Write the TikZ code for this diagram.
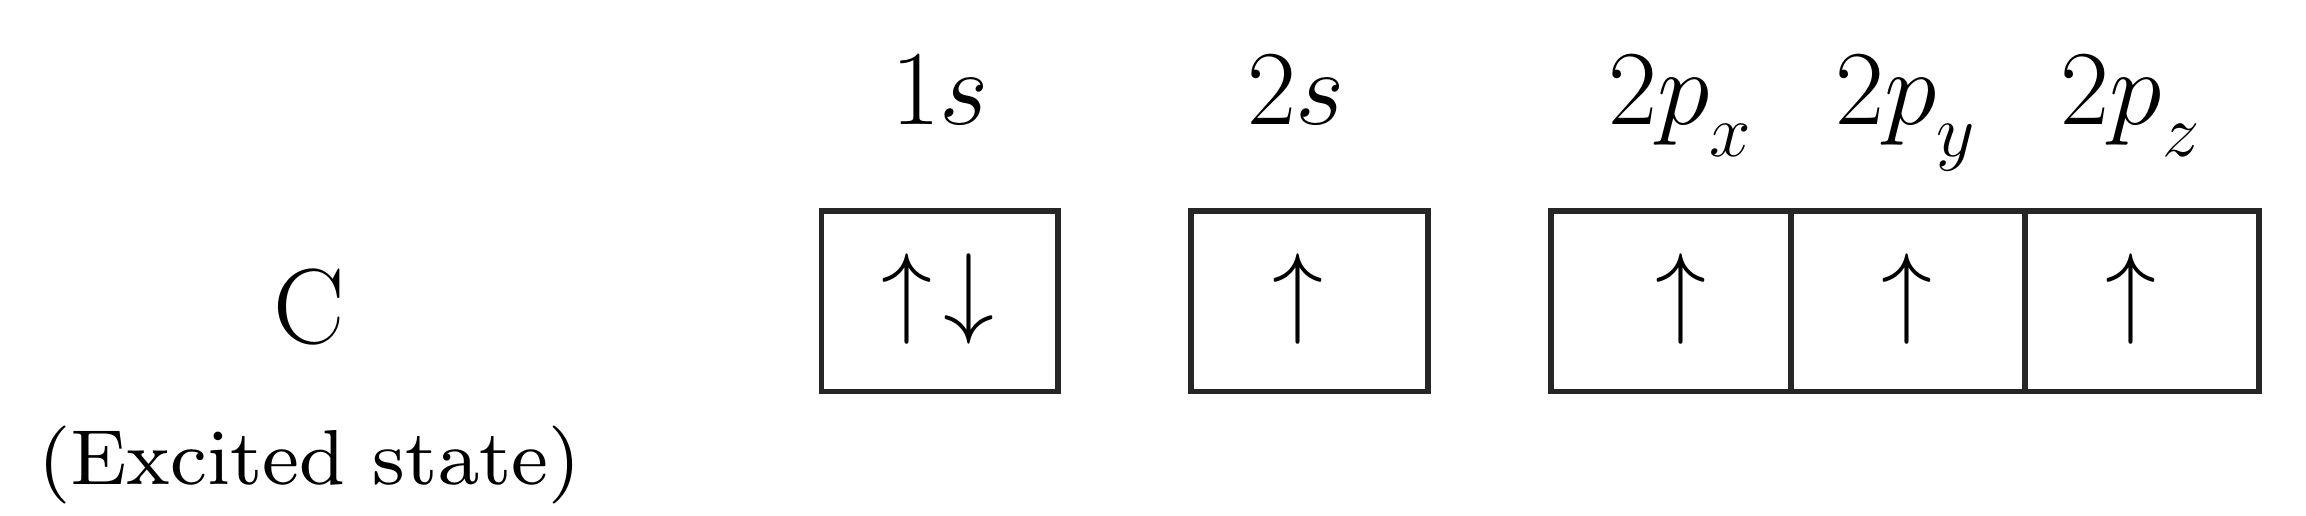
\RequirePackage{fix-cm}
\documentclass[tikz,border=0pt]{standalone}
\DeclareFontFamily{OT1}{cmeight}{}
\DeclareFontShape{OT1}{cmeight}{m}{n}{<->cmr8}{}
\begin{document}
\begin{tikzpicture}[x=0.1mm,y=-0.1mm,
  orb/.style={draw=black!85, line width=1.58pt, inner sep=0pt, minimum height=18.05mm},
  spin/.style={font=\fontsize{29}{30}\selectfont, inner sep=0pt},
  lab/.style={anchor=base, inner sep=0pt, font=\fontsize{30.3}{32}\selectfont},
  elem/.style={anchor=base, inner sep=0pt, font=\fontsize{30.4}{32}\selectfont},
  note/.style={anchor=base, inner sep=0pt, font=\fontencoding{OT1}\fontfamily{cmeight}\fontsize{22.2}{25}\selectfont}]
\useasboundingbox (0,0) rectangle (2306,516);
% element
\node[elem] (el) at (309,343) {C};
\node[note] (st) at (309.5,484) {(Excited state)};
% orbital boxes
\node[orb, minimum width=23.65mm] (s1) at (939.75,301.25) {};
\node[orb, minimum width=23.7mm] (s2) at (1309.5,301.25) {};
\node[orb, minimum width=24.0mm] (px) at (1671,301.25) {};
\node[orb, minimum width=23.4mm] (py) at (1908,301.25) {};
\node[orb, minimum width=23.4mm] (pz) at (2142,301.25) {};
% labels
\node[lab] (l1) at (940,124) {$1s$};
\node[lab] (l2) at (1296,124) {$2s$};
\node[lab] (lx) at (1681,124) {$2p_{\raisebox{-1.7mm}{$\scriptstyle x$}}$};
\node[lab] (ly) at (1906,124) {$2p_{\raisebox{-1.7mm}{$\scriptstyle y$}}$};
\node[lab] (lz) at (2131,124) {$2p_{\raisebox{-1.7mm}{$\scriptstyle z$}}$};
% electrons
\node[spin] (e1) at (938,299) {$\uparrow\hspace{3pt}\downarrow$};
\node[spin] (e2) at (1298,299) {$\uparrow$};
\node[spin] (ex) at (1681,299) {$\uparrow$};
\node[spin] (ey) at (1907,299) {$\uparrow$};
\node[spin] (ez) at (2131,299) {$\uparrow$};
\end{tikzpicture}
\end{document}
